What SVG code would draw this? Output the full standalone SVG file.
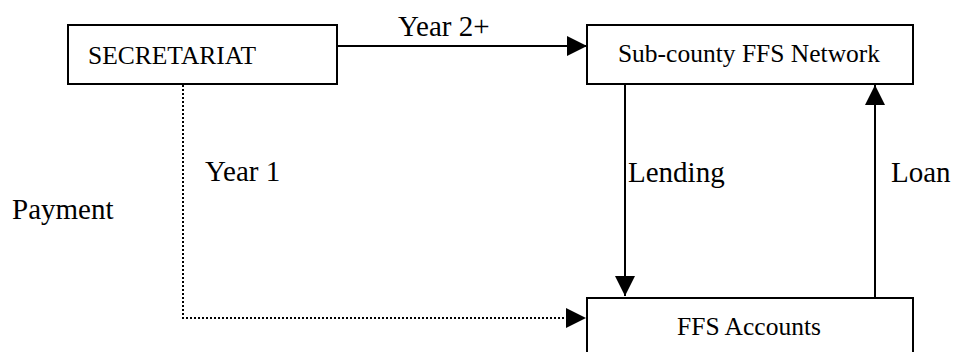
<svg xmlns="http://www.w3.org/2000/svg" width="955" height="352" viewBox="0 0 955 352">
<defs>
<marker id="ah" viewBox="0 0 10 10" refX="10" refY="5" markerWidth="20" markerHeight="21" markerUnits="userSpaceOnUse" orient="auto">
<path d="M0,0 L10,5 L0,10 Z" fill="#000"/>
</marker>
</defs>
<style>
.box{fill:#fff;stroke:#000;stroke-width:2}
.bt{font-family:"Liberation Serif","Times New Roman",serif;font-size:25.5px;fill:#000}
.lt{font-family:"Liberation Serif","Times New Roman",serif;font-size:29px;fill:#000}
.ln{fill:none;stroke:#000;stroke-width:2}
.dot{fill:none;stroke:#000;stroke-width:2;stroke-dasharray:2 2}
</style>
<rect width="955" height="352" fill="#fff"/>
<g id="connectors">
<line class="ln" x1="337" y1="46" x2="587" y2="46" marker-end="url(#ah)"/>
<line class="ln" x1="625" y1="84" x2="625" y2="296" marker-end="url(#ah)"/>
<line class="ln" x1="875" y1="298" x2="875" y2="85" marker-end="url(#ah)"/>
<polyline class="dot" points="183,85 183,318 586,318" marker-end="url(#ah)"/>
<text class="lt" x="398" y="36">Year 2+</text>
<text class="lt" x="205" y="181">Year 1</text>
<text class="lt" x="12" y="219">Payment</text>
<text class="lt" x="628" y="182">Lending</text>
<text class="lt" x="891" y="182">Loan</text>
</g>
<g id="secretariat">
<rect class="box" x="68" y="25" width="269" height="59"/>
<text class="bt" x="88" y="64">SECRETARIAT</text>
</g>
<g id="subcounty">
<rect class="box" x="587" y="25" width="326" height="59"/>
<text class="bt" x="749" y="62" text-anchor="middle">Sub-county FFS Network</text>
</g>
<g id="accounts">
<rect class="box" x="587" y="298" width="326" height="60"/>
<text class="bt" x="749" y="335" text-anchor="middle">FFS Accounts</text>
</g>
</svg>
